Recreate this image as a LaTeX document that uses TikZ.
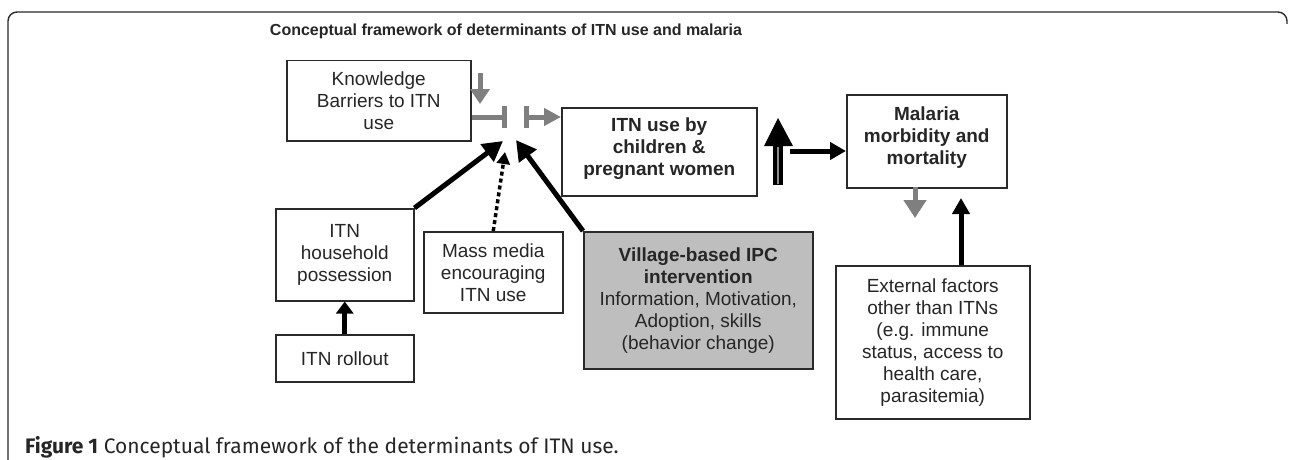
\documentclass[tikz,border=0pt]{standalone}
\usepackage{fontspec}
\setmainfont{Liberation Sans}
\newfontfamily\capfont{Fira Sans}
\usetikzlibrary{arrows.meta,calc}
\definecolor{arrgray}{HTML}{7F7F7F}
\definecolor{boxgray}{HTML}{BEBEBE}
\definecolor{edge}{HTML}{2A2A2A}
\begin{document}
\begin{tikzpicture}[x=1pt,y=-1pt,
  box/.style={draw=edge, line width=1.5pt, anchor=north west, inner sep=0pt, align=center,
     font=\fontsize{19}{22}\selectfont, text=black!85},
  bk/.style={line width=5pt, draw=black, -{Triangle[length=16pt,width=18pt]}},
  gr/.style={line width=5pt, draw=arrgray, -{Triangle[length=15pt,width=19pt]}},
]
\useasboundingbox (0,0) rectangle (1290,460);
\fill[white] (0,0) rectangle (1290,460);
% frame
\draw[edge, line width=1.4pt, rounded corners=9pt] (8,462) -- (8,12) -- (1287,12) -- (1287,24);
% title
\node[font=\bfseries\fontsize{16}{18}\selectfont, text=black!85] (title) at (506,31) {Conceptual framework of determinants of ITN use and malaria};
% boxes
\node[box, minimum width=184pt, minimum height=80pt] (know) at (286,60) {Knowledge\\Barriers to ITN\\use};
\node[box, minimum width=195pt, minimum height=88pt, font=\bfseries\fontsize{19}{22}\selectfont] (use) at (561,107) {ITN use by\\children \&\\pregnant women\\[-12pt]\mbox{}};
\node[box, minimum width=160pt, minimum height=93pt, font=\bfseries\fontsize{19}{22}\selectfont] (mal) at (846,94) {Malaria\\morbidity and\\mortality\\[-10pt]\mbox{}};
\node[box, minimum width=138pt, minimum height=92pt] (house) at (275,208) {ITN\\household\\possession};
\node[box, minimum width=139pt, minimum height=81pt] (media) at (423,231) {Mass media\\encouraging\\ITN use};
\node[box, minimum width=138pt, minimum height=47pt] (roll) at (275,334) {ITN rollout};
\node[box, minimum width=229pt, minimum height=137pt, fill=boxgray] (vil) at (583,231) {\textbf{Village-based IPC}\\\textbf{intervention}\\Information, Motivation,\\Adoption, skills\\(behavior change)};
\node[box, minimum width=194pt, minimum height=153pt] (ext) at (835,265) {External factors\\other than ITNs\\(e.g. immune\\status, access to\\health care,\\parasitemia)};
% junction coordinates
\coordinate (tipH) at (503,141);
\coordinate (tipV) at (516,140);
\coordinate (tipM) at (505,152);
\coordinate (barA) at (504,117);
\coordinate (barB) at (526,117);
\coordinate (kTop) at (480,73);
\coordinate (kTip) at (480,104);
\coordinate (dblBot) at (778,185);
\coordinate (dblHead) at (778,145);
\coordinate (rStart) at (790,151);
% gray knowledge arrows
\draw[gr] (kTop) -- (kTip);
\draw[line width=5pt, arrgray] (know.east |- barA) -- (barA);
\draw[line width=5pt, arrgray] (504,106) -- (504,128);
\draw[line width=5pt, arrgray] (526,106) -- (526,128);
\draw[gr, -{Triangle[length=17pt,width=17pt]}] (barB) -- (use.west |- barB);
% black arrows into junction
\draw[bk, -{Triangle[length=20pt,width=21pt]}] (house.north east) -- (tipH);
\draw[bk, -{Triangle[length=20pt,width=21pt]}] (vil.north west) -- (tipV);
\draw[line width=3.5pt, dash pattern=on 4pt off 3pt, -{Triangle[length=12pt,width=13pt]}] (media.north |- 0,231) -- (tipM);
\draw[bk, -{Triangle[length=12pt,width=17pt]}] (roll.north) -- (house.south);
% double arrow
\draw[line width=10pt] (dblBot) -- (dblHead);
\draw[line width=1.6pt, black!45] ($(dblBot)+(0,-1)$) -- ($(dblHead)+(0,2)$);
\fill (764,146) -- (793,146) -- (778,118) -- cycle;
% to malaria
\draw[bk, -{Triangle[length=16pt,width=17pt]}] (rStart) -- (mal.west |- rStart);
% malaria outputs
\coordinate (gdTop) at (915,187);
\coordinate (gdTip) at (915,218);
\draw[gr, -{Triangle[length=18pt,width=22pt]}] (gdTop) -- (gdTip);
\draw[bk, -{Triangle[length=16pt,width=17pt]}] (ext.north -| 961,0) -- (961,198);
% caption
\node[anchor=base west, font=\capfont\fontsize{21}{23}\selectfont, text=black!85, inner sep=0pt] (cap) at (25,453) {\textbf{Figure 1} Conceptual framework of the determinants of ITN use.};
\end{tikzpicture}
\end{document}
